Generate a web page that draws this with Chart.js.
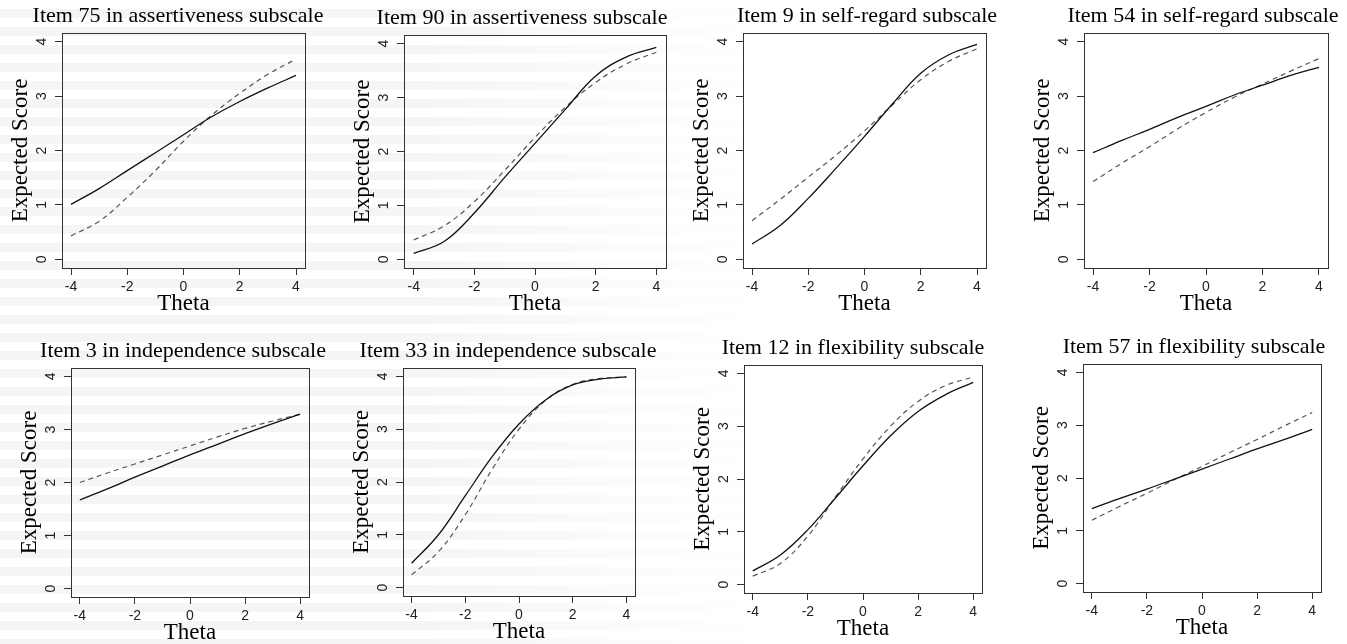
<!DOCTYPE html>
<html>
<head>
<meta charset="utf-8">
<script src="https://cdn.jsdelivr.net/npm/chart.js@4/dist/chart.umd.min.js"></script>
<style>
  html, body { margin: 0; padding: 0; background: #fff; overflow: hidden; }
  body { width: 1347px; height: 644px; position: relative; }
  .stripes {
    position: absolute; left: 0; top: 0; width: 760px; height: 644px;
    background: repeating-linear-gradient(to bottom, #fff 0 9px, #f5f5f5 9px 18px);
    -webkit-mask-image: linear-gradient(to right, #000 0, #000 55%, transparent 100%);
    mask-image: linear-gradient(to right, #000 0, #000 55%, transparent 100%);
  }
  canvas { position: absolute; }
</style>
</head>
<body>
<div class="stripes"></div>

<script>
const theta = [-4, -3, -2, -1, 0, 1, 2, 3, 4];
const xTicks = [-4, -2, 0, 2, 4];
const yTicks = [0, 1, 2, 3, 4];

const titles = [
    'Item 75 in assertiveness subscale',
    'Item 90 in assertiveness subscale',
    'Item 9 in self-regard subscale',
    'Item 54 in self-regard subscale',
    'Item 3 in independence subscale',
    'Item 33 in independence subscale',
    'Item 12 in flexibility subscale',
    'Item 57 in flexibility subscale'
];

// solid = first curve, dashed = second curve
const item75Solid  = [1.01, 1.30, 1.63, 1.96, 2.29, 2.62, 2.90, 3.15, 3.38];
const item75Dashed = [0.43, 0.70, 1.14, 1.63, 2.17, 2.65, 3.05, 3.40, 3.68];
const item90Solid  = [0.11, 0.33, 0.86, 1.52, 2.15, 2.78, 3.40, 3.75, 3.93];
const item90Dashed = [0.36, 0.62, 1.07, 1.65, 2.26, 2.82, 3.28, 3.62, 3.84];
const item9Solid   = [0.28, 0.62, 1.12, 1.68, 2.26, 2.86, 3.42, 3.76, 3.95];
const item9Dashed  = [0.71, 1.10, 1.51, 1.92, 2.36, 2.84, 3.30, 3.64, 3.87];
const item54Solid  = [1.96, 2.18, 2.39, 2.61, 2.81, 3.02, 3.20, 3.38, 3.53];
const item54Dashed = [1.43, 1.76, 2.07, 2.40, 2.70, 2.98, 3.22, 3.46, 3.69];
const item3Solid   = [1.67, 1.88, 2.10, 2.31, 2.52, 2.72, 2.92, 3.11, 3.29];
const item3Dashed  = [2.00, 2.18, 2.35, 2.52, 2.69, 2.86, 3.02, 3.16, 3.29];
const item33Solid  = [0.46, 1.00, 1.74, 2.48, 3.10, 3.56, 3.84, 3.95, 3.99];
const item33Dashed = [0.24, 0.68, 1.38, 2.24, 3.00, 3.55, 3.85, 3.96, 3.99];
const item12Solid  = [0.26, 0.56, 1.04, 1.64, 2.25, 2.82, 3.28, 3.60, 3.83];
const item12Dashed = [0.16, 0.40, 0.92, 1.66, 2.38, 3.00, 3.47, 3.77, 3.93];
const item57Solid  = [1.42, 1.61, 1.79, 1.98, 2.17, 2.36, 2.55, 2.73, 2.92];
const item57Dashed = [1.20, 1.46, 1.71, 1.97, 2.22, 2.48, 2.73, 2.99, 3.24];

const solidSeries = [item75Solid, item90Solid, item9Solid, item54Solid, item3Solid, item33Solid, item12Solid, item57Solid];
const dashedSeries = [item75Dashed, item90Dashed, item9Dashed, item54Dashed, item3Dashed, item33Dashed, item12Dashed, item57Dashed];

// plot boxes on the page: [left, top, right, bottom], and title centre x
const boxes = [
    [62, 33, 305, 268], [404, 35, 666, 268], [743, 33, 986, 268], [1084, 33, 1328, 268],
    [71, 368, 309, 597], [403, 368, 635, 596], [744, 365, 982, 593], [1083, 364, 1321, 592]
];
const titleCenters = [178, 522, 867, 1203, 183, 508, 853, 1194];

const Y_AXIS_W = 62;
const TOP_H = 40;
const X_AXIS_H = 50;

const boxPlugin = {
    id: 'boxPlugin',
    afterDraw(chart) {
        const a = chart.chartArea;
        const c = chart.ctx;
        c.save();
        c.strokeStyle = '#333';
        c.lineWidth = 1;
        c.strokeRect(Math.round(a.left) + 0.5, Math.round(a.top) + 0.5,
            Math.round(a.right - a.left), Math.round(a.bottom - a.top));
        c.restore();
    }
};

const toPoints = (vals) => theta.map((t, i) => ({ x: t, y: vals[i] }));

const tickFont = { family: 'Liberation Sans', size: 14 };
const serif = 'Liberation Serif';

titles.forEach((title, i) => {
    const [L, T, R, B] = boxes[i];
    const left = L - Y_AXIS_W;
    const top = T - TOP_H;
    const width = Math.round(2 * (titleCenters[i] - left));
    const height = (B - T) + TOP_H + X_AXIS_H;
    const rightSpace = width - (R - left);

    const canvas = document.createElement('canvas');
    canvas.width = width;
    canvas.height = height;
    canvas.style.left = left + 'px';
    canvas.style.top = top + 'px';
    canvas.style.width = width + 'px';
    canvas.style.height = height + 'px';
    document.body.appendChild(canvas);

    new Chart(canvas.getContext('2d'), {
        type: 'line',
        data: {
            datasets: [{
                data: toPoints(solidSeries[i]),
                borderColor: '#111',
                borderWidth: 1.3,
                pointRadius: 0,
                tension: 0.4,
                fill: false
            }, {
                data: toPoints(dashedSeries[i]),
                borderColor: '#555',
                borderWidth: 1.2,
                borderDash: [5, 4],
                pointRadius: 0,
                tension: 0.4,
                fill: false
            }]
        },
        options: {
            responsive: false,
            animation: false,
            devicePixelRatio: 1,
            layout: { padding: 0 },
            plugins: {
                legend: { display: false },
                tooltip: { enabled: false },
                title: {
                    display: true,
                    text: title,
                    color: '#000',
                    font: { family: serif, size: 22, weight: 'normal', lineHeight: 1 },
                    padding: { top: 12, bottom: 6 }
                }
            },
            scales: {
                x: {
                    type: 'linear',
                    min: -4.32,
                    max: 4.32,
                    afterBuildTicks: (s) => { s.ticks = xTicks.map(v => ({ value: v })); },
                    afterFit: (s) => { s.height = X_AXIS_H; },
                    border: { display: false },
                    grid: { drawOnChartArea: false, drawTicks: true, tickLength: 7, color: '#333' },
                    ticks: { font: tickFont, color: '#222', padding: 4, maxRotation: 0, autoSkip: false },
                    title: {
                        display: true,
                        text: 'Theta',
                        color: '#000',
                        font: { family: serif, size: 23, lineHeight: 1 },
                        padding: { top: 0, bottom: 2.5 }
                    }
                },
                y: {
                    type: 'linear',
                    min: -0.16,
                    max: 4.16,
                    afterBuildTicks: (s) => { s.ticks = yTicks.map(v => ({ value: v })); },
                    afterFit: (s) => { s.width = Y_AXIS_W; },
                    border: { display: false },
                    grid: { drawOnChartArea: false, drawTicks: true, tickLength: 7, color: '#333' },
                    ticks: { font: tickFont, color: '#222', padding: 9, minRotation: 90, maxRotation: 90, crossAlign: 'center', autoSkip: false },
                    title: {
                        display: true,
                        text: 'Expected Score',
                        color: '#000',
                        font: { family: serif, size: 23, lineHeight: 1 },
                        padding: { top: 9.5, bottom: 0 }
                    }
                },
                // empty right-hand scale that only reserves space, so the title stays centred on the canvas
                spacer: {
                    type: 'linear',
                    position: 'right',
                    display: true,
                    afterFit: (s) => { s.width = rightSpace; },
                    border: { display: false },
                    grid: { display: false },
                    ticks: { display: false }
                }
            }
        },
        plugins: [boxPlugin]
    });
});
</script>
</body>
</html>
